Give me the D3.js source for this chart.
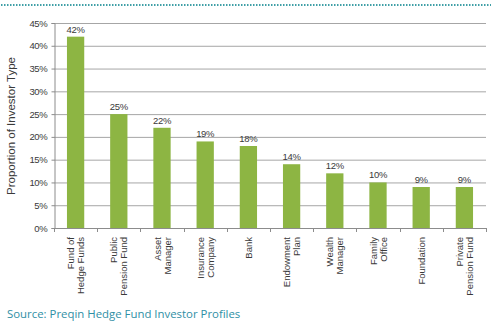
<!DOCTYPE html>
<html><head><meta charset="utf-8">
<script src="https://cdn.jsdelivr.net/npm/d3@7"></script>
<style>body{margin:0;background:#fff}svg{display:block}</style>
</head><body>
<svg id="c" width="500" height="326"></svg>
<script>
const categories = [["Fund of","Hedge Funds"],["Public","Pension Fund"],["Asset","Manager"],["Insurance","Company"],["Bank"],["Endowment","Plan"],["Wealth","Manager"],["Family","Office"],["Foundation"],["Private","Pension Fund"]];
const values = [42,25,22,19,18,14,12,10,9,9];
const yTicks = [0,5,10,15,20,25,30,35,40,45];
const yTitle = "Proportion of Investor Type";
const source = "Source: Preqin Hedge Fund Investor Profiles";

const svg = d3.select("#c");
const font = "'Liberation Sans', Arial, sans-serif";
const m = {l:54, r:14, t:23, b:98};
const W = 500, H = 326;
const x = d3.scaleBand().domain(d3.range(categories.length)).range([m.l, W-m.r]).paddingInner(0.6).paddingOuter(0.3);
const y = d3.scaleLinear().domain([0,45]).range([H-m.b, m.t]);

// top dotted line
svg.append("line").attr("x1",1).attr("x2",491).attr("y1",5).attr("y2",5)
  .attr("stroke","#3f9fa6").attr("stroke-width",2).attr("stroke-dasharray","1.5,1.5");

// gridlines
svg.append("g").selectAll("line").data(yTicks.filter(d=>d>0)).join("line")
  .attr("x1",m.l).attr("x2",W-m.r).attr("y1",d=>y(d)+0.5).attr("y2",d=>y(d)+0.5)
  .attr("stroke","#a6a6a6").attr("stroke-width",1);

// y axis
const ya = svg.append("g").attr("transform",`translate(${m.l+0.5},0)`)
  .call(d3.axisLeft(y).tickValues(yTicks).tickFormat(d=>d+"%").tickSize(3).tickPadding(4));
ya.select(".domain").attr("stroke","#8c8c8c");
ya.selectAll(".tick line").attr("stroke","#8c8c8c");
ya.selectAll("text").attr("font-family",font).attr("font-size",9.5).attr("fill","#3a3a3a").attr("letter-spacing","-0.3");

// x axis
const xEdges = d3.range(categories.length+1).map(i => m.l + i*(W-m.l-m.r)/categories.length);
svg.append("line").attr("x1",m.l).attr("x2",W-m.r).attr("y1",y(0)+0.5).attr("y2",y(0)+0.5).attr("stroke","#8c8c8c");
svg.append("g").selectAll("line").data(xEdges).join("line")
  .attr("x1",d=>Math.round(d)+0.5).attr("x2",d=>Math.round(d)+0.5).attr("y1",y(0)).attr("y2",y(0)+4).attr("stroke","#8c8c8c");

// bars
svg.append("g").selectAll("rect").data(values).join("rect")
  .attr("x",(d,i)=>x(i)).attr("width",x.bandwidth())
  .attr("y",d=>y(d)).attr("height",d=>y(0)-y(d)).attr("fill","#8db543");

// value labels
svg.append("g").selectAll("text").data(values).join("text")
  .attr("x",(d,i)=>x(i)+x.bandwidth()/2).attr("y",d=>y(d)-4)
  .attr("text-anchor","middle").attr("font-family",font).attr("font-size",9.5).attr("fill","#3a3a3a").attr("letter-spacing","-0.3")
  .text(d=>d+"%");

// category labels (rotated)
const cl = svg.append("g").selectAll("text").data(categories).join("text")
  .attr("transform",(d,i)=>{
    const cx = x(i)+x.bandwidth()/2;
    return `translate(${cx},${y(0)+9}) rotate(-90)`;})
  .attr("text-anchor","end").attr("font-family",font).attr("font-size",9.5).attr("fill","#3a3a3a");
cl.each(function(d){
  const t = d3.select(this);
  const n = d.length;
  d.forEach((line,k)=>{
    t.append("tspan").attr("x",0).attr("y",(k-(n-1)/2)*10+3.5).text(line);
  });
});

// y title
svg.append("text").attr("transform",`translate(15,126) rotate(-90)`)
  .attr("text-anchor","middle").attr("font-family",font).attr("font-size",11.5).attr("fill","#3a3a3a").text(yTitle);

// source
svg.append("text").attr("x",7).attr("y",318).attr("font-family","'Open Sans', sans-serif").attr("font-size",11.4)
  .attr("fill","#2f8fa5").text(source);
</script>
</body></html>
